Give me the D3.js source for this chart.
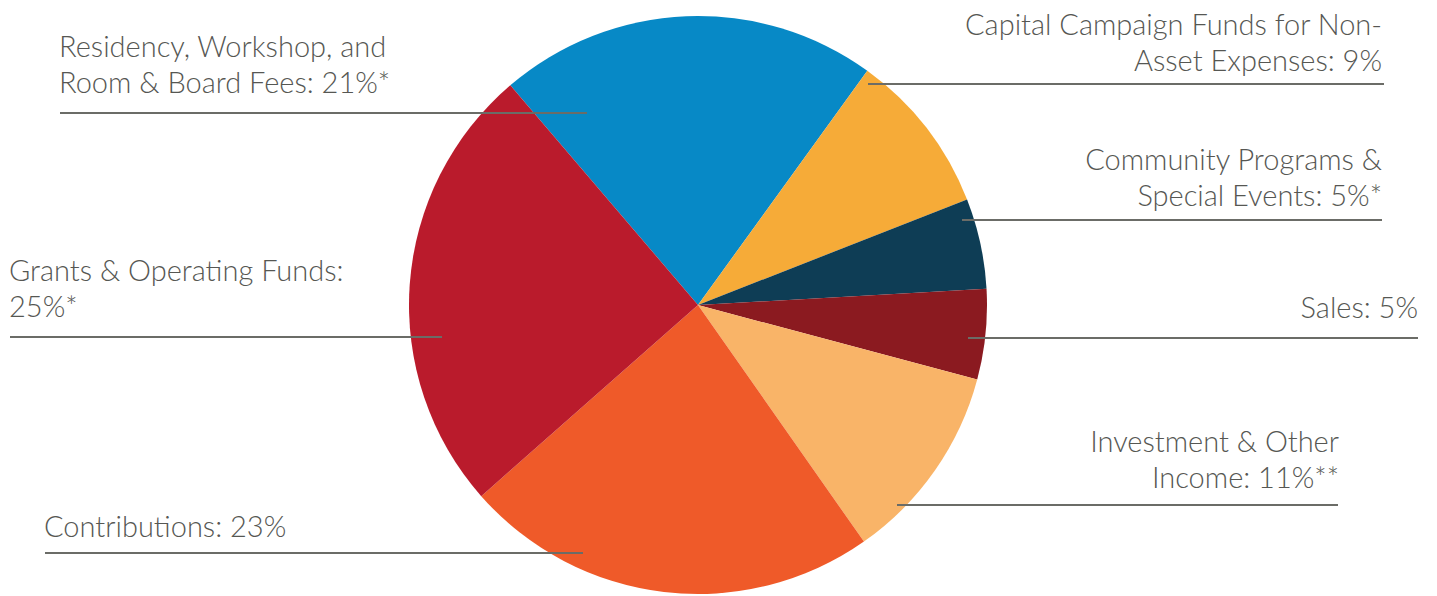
<!DOCTYPE html>
<html>
<head>
<meta charset="utf-8">
<script src="https://cdn.jsdelivr.net/npm/d3@7"></script>
<style>
  html, body { margin: 0; padding: 0; background: #ffffff; }
  svg { display: block; }
  .lbl { font-family: Lato, "Open Sans", sans-serif; font-weight: 300; font-size: 29px; fill: #565753; }
</style>
</head>
<body>
<div id="chart"></div>
<script>
// slices, clockwise from the blue one
var categories = ["Residency, Workshop, and Room & Board Fees",
                  "Capital Campaign Funds for Non-Asset Expenses",
                  "Community Programs & Special Events",
                  "Sales",
                  "Investment & Other Income",
                  "Contributions",
                  "Grants & Operating Funds"];
var values = [21, 9, 5, 5, 11, 23, 25];
var colors = ["#0789c6", "#f6ab38", "#0e3d55", "#8b1a20", "#f9b468", "#ef5a29", "#ba1b2c"];

// label text, one entry per line
var labelLines = [
  ["Residency, Workshop, and", "Room & Board Fees: 21%*"],
  ["Capital Campaign Funds for Non-", "Asset Expenses: 9%"],
  ["Community Programs &", "Special Events: 5%*"],
  ["Sales: 5%"],
  ["Investment & Other", "Income: 11%**"],
  ["Contributions: 23%"],
  ["Grants & Operating Funds:", "25%*"]
];

// layout for the callouts: text anchor x, first baseline, line y, line x range
var layout = [
  { tx: 59,   anchor: "start", ty: 57,  ly: 113, x1: 60,  x2: 587 },
  { tx: 1382, anchor: "end",   ty: 35,  ly: 84,  x1: 868, x2: 1384 },
  { tx: 1382, anchor: "end",   ty: 170, ly: 220, x1: 962, x2: 1382 },
  { tx: 1418, anchor: "end",   ty: 318, ly: 338, x1: 968, x2: 1418 },
  { tx: 1339, anchor: "end",   ty: 452, ly: 505, x1: 897, x2: 1338 },
  { tx: 44,   anchor: "start", ty: 537, ly: 553, x1: 45,  x2: 583 },
  { tx: 9,    anchor: "start", ty: 281, ly: 337, x1: 10,  x2: 442 }
];

var W = 1437, H = 596;
var cx = 698, cy = 305, R = 289;
var LINE_GAP = 36;

var svg = d3.select("#chart").append("svg")
            .attr("width", W)
            .attr("height", H);

var start = -40.5 * Math.PI / 180;
var pie = d3.pie()
            .sort(null)
            .value(function (d) { return d; })
            .startAngle(start)
            .endAngle(start + 2 * Math.PI);

var arc = d3.arc().innerRadius(0).outerRadius(R);

var g = svg.append("g").attr("transform", "translate(" + cx + "," + cy + ")");

g.selectAll("path")
 .data(pie(values))
 .enter().append("path")
 .attr("d", arc)
 .attr("fill", function (d, i) { return colors[i]; })
 .append("title")
 .text(function (d, i) { return categories[i] + ": " + values[i] + "%"; });

// callout lines
svg.selectAll("line.callout")
   .data(layout)
   .enter().append("line")
   .attr("class", "callout")
   .attr("x1", function (l) { return l.x1; })
   .attr("x2", function (l) { return l.x2; })
   .attr("y1", function (l) { return l.ly; })
   .attr("y2", function (l) { return l.ly; })
   .attr("stroke", "#6b6c67")
   .attr("stroke-width", 1.8);

// callout text
var texts = svg.selectAll("text.lbl")
               .data(labelLines)
               .enter().append("text")
               .attr("class", "lbl")
               .attr("text-anchor", function (d, i) { return layout[i].anchor; });

texts.each(function (lines, i) {
  var t = d3.select(this);
  lines.forEach(function (s, k) {
    t.append("tspan")
     .attr("x", layout[i].tx)
     .attr("y", layout[i].ty + k * LINE_GAP)
     .text(s);
  });
});
</script>
</body>
</html>
